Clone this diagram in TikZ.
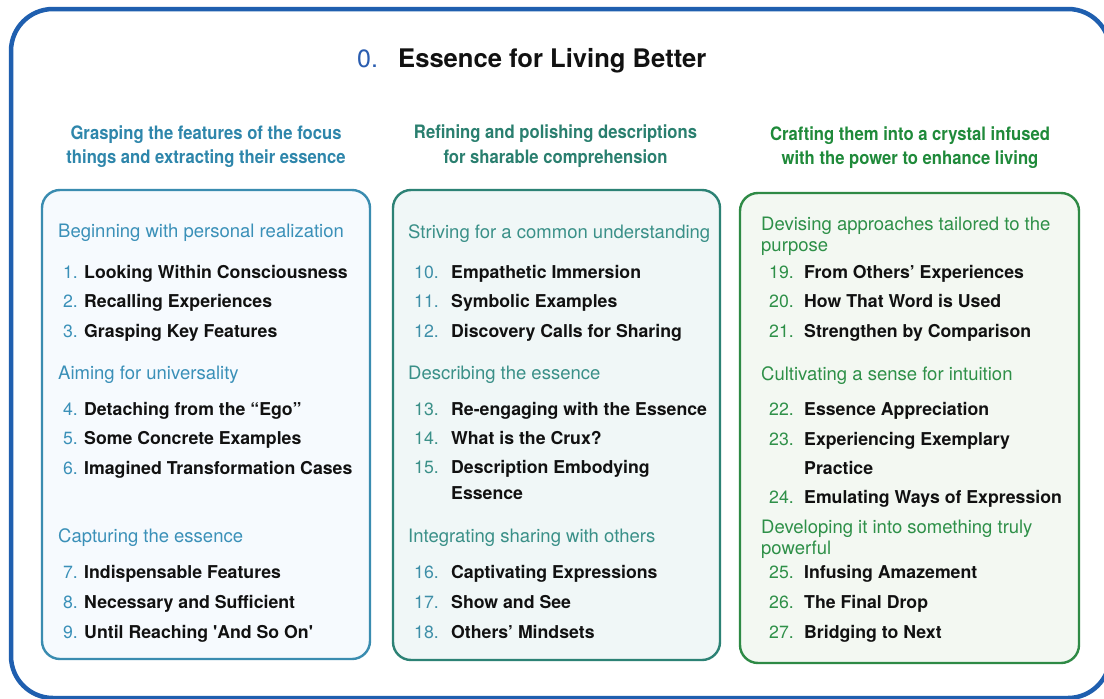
\documentclass[tikz,border=0pt]{standalone}
\usepackage{fontspec}
\setmainfont{TeX Gyre Heros}[Ligatures=TeXOff]
\newfontfamily\condfont{TeX Gyre Heros}[FakeStretch=0.9,Ligatures=TeXOff]
\definecolor{frameblue}{HTML}{1F5FAF}
\definecolor{titleblue}{HTML}{2A5DB0}
\definecolor{txt}{HTML}{111111}
\definecolor{hdA}{HTML}{2E86AB}
\definecolor{secA}{HTML}{3A90B8}
\definecolor{boxA}{HTML}{3A8CB0}
\definecolor{fillA}{HTML}{F6FAFE}
\definecolor{hdB}{HTML}{2A7F6F}
\definecolor{secB}{HTML}{3A9088}
\definecolor{numB}{HTML}{3E8FA8}
\definecolor{boxB}{HTML}{2C8275}
\definecolor{fillB}{HTML}{F0F7F7}
\definecolor{hdC}{HTML}{1F8A3A}
\definecolor{secC}{HTML}{2E9048}
\definecolor{boxC}{HTML}{2E8A45}
\definecolor{fillC}{HTML}{F3F8F2}
\tikzset{
  outerframe/.style={draw=frameblue, line width=4.5pt, rounded corners=42pt},
  panel/.style={line width=2.4pt, rounded corners=18pt},
  colhead/.style={anchor=base, inner sep=0pt, font=\condfont\bfseries\fontsize{18.5}{22}\selectfont},
  sechead/.style={anchor=base west, inner sep=0pt, font=\fontsize{18.5}{22}\selectfont},
  num/.style={anchor=base east, inner sep=0pt, font=\fontsize{17.7}{21}\selectfont},
  item/.style={anchor=base west, inner sep=0pt, text=txt, font=\fontsize{17.7}{21}\bfseries},
}
\begin{document}
\begin{tikzpicture}[x=1pt,y=-1pt]
\useasboundingbox (0,0) rectangle (1104,699);
\fill[white] (0,0) rectangle (1104,699);
\begin{scope}
  \clip (0,0) rectangle (1104,699);
  \draw[outerframe] (11,9) rectangle (1110,698);
\end{scope}

% title
\node[anchor=base west, inner sep=0pt, text=titleblue, font=\fontsize{25}{29}\selectfont] (t0) at (357,67) {0.};
\node[anchor=base west, inner sep=0pt, text=txt, font=\fontsize{25.6}{29}\bfseries] (title) at (398,67) {Essence for Living Better};

% column headers
\node[colhead, text=hdA] (hA1) at (206,139) {Grasping the features of the focus};
\node[colhead, text=hdA] (hA2) at (206,163.5) {things and extracting their essence};
\node[colhead, text=hdB] (hB1) at (555.5,138) {Refining and polishing descriptions};
\node[colhead, text=hdB] (hB2) at (555.5,163) {for sharable comprehension};
\node[colhead, text=hdC] (hC1) at (910,140) {Crafting them into a crystal infused};
\node[colhead, text=hdC] (hC2) at (910,164.5) {with the power to enhance living};

% panels
\draw[panel, draw=boxA, fill=fillA] (42,190) rectangle (370,659);
\draw[panel, draw=boxB, fill=fillB] (393,190) rectangle (720,660);
\draw[panel, draw=boxC, fill=fillC] (740,193) rectangle (1079,663);

% column A
\node[sechead, text=secA] (sA1) at (58,237.5) {Beginning with personal realization};
\node[num, text=secA] (n1) at (78,278) {1.};   \node[item] (i1) at (84,278) {Looking Within Consciousness};
\node[num, text=secA] (n2) at (78,307.5) {2.}; \node[item] (i2) at (84,307.5) {Recalling Experiences};
\node[num, text=secA] (n3) at (78,337) {3.};   \node[item] (i3) at (84,337) {Grasping Key Features};
\node[sechead, text=secA] (sA2) at (58,379.5) {Aiming for universality};
\node[num, text=secA] (n4) at (78,415) {4.};   \node[item] (i4) at (84,415) {Detaching from the “Ego”};
\node[num, text=secA] (n5) at (78,444) {5.};   \node[item] (i5) at (84,444) {Some Concrete Examples};
\node[num, text=secA] (n6) at (78,474) {6.};   \node[item] (i6) at (84,474) {Imagined Transformation Cases};
\node[sechead, text=secA] (sA3) at (58,542.5) {Capturing the essence};
\node[num, text=secA] (n7) at (78,578.5) {7.}; \node[item] (i7) at (84,578.5) {Indispensable Features};
\node[num, text=secA] (n8) at (78,608.5) {8.}; \node[item] (i8) at (84,608.5) {Necessary and Sufficient};
\node[num, text=secA] (n9) at (78,638) {9.};   \node[item] (i9) at (84,638) {Until Reaching 'And So On'};

% column B
\node[sechead, text=secB] (sB1) at (408,238) {Striving for a common understanding};
\node[num, text=numB] (n10) at (439,278) {10.};   \node[item] (i10) at (451,278) {Empathetic Immersion};
\node[num, text=numB] (n11) at (439,307.5) {11.}; \node[item] (i11) at (451,307.5) {Symbolic Examples};
\node[num, text=numB] (n12) at (439,337) {12.};   \node[item] (i12) at (451,337) {Discovery Calls for Sharing};
\node[sechead, text=secB] (sB2) at (408,379.5) {Describing the essence};
\node[num, text=secB] (n13) at (439,415) {13.};   \node[item] (i13) at (451,415) {Re-engaging with the Essence};
\node[num, text=secB] (n14) at (439,444) {14.};   \node[item] (i14) at (451,444) {What is the Crux?};
\node[num, text=secB] (n15) at (439,473) {15.};   \node[item] (i15) at (451,473) {Description Embodying};
\node[item] (i15b) at (451,499) {Essence};
\node[sechead, text=secB] (sB3) at (408,542.5) {Integrating sharing with others};
\node[num, text=numB] (n16) at (439,578.5) {16.}; \node[item] (i16) at (451,578.5) {Captivating Expressions};
\node[num, text=numB] (n17) at (439,608.5) {17.}; \node[item] (i17) at (451,608.5) {Show and See};
\node[num, text=numB] (n18) at (439,638) {18.};   \node[item] (i18) at (451,638) {Others’ Mindsets};

% column C
\node[sechead, text=secC] (sC1) at (761,230.5) {Devising approaches tailored to the};
\node[sechead, text=secC] (sC1b) at (761,251.5) {purpose};
\node[num, text=secC] (n19) at (794,278) {19.};   \node[item] (i19) at (804,278) {From Others’ Experiences};
\node[num, text=secC] (n20) at (794,307.5) {20.}; \node[item] (i20) at (804,307.5) {How That Word is Used};
\node[num, text=secC] (n21) at (794,337) {21.};   \node[item] (i21) at (804,337) {Strengthen by Comparison};
\node[sechead, text=secC] (sC2) at (761,380.5) {Cultivating a sense for intuition};
\node[num, text=secC] (n22) at (794,415) {22.};   \node[item] (i22) at (804,415) {Essence Appreciation};
\node[num, text=secC] (n23) at (794,445) {23.};   \node[item] (i23) at (804,445) {Experiencing Exemplary};
\node[item] (i23b) at (804,474) {Practice};
\node[num, text=secC] (n24) at (794,503) {24.};   \node[item] (i24) at (804,503) {Emulating Ways of Expression};
\node[sechead, text=secC] (sC3) at (761,533) {Developing it into something truly};
\node[sechead, text=secC] (sC3b) at (761,554) {powerful};
\node[num, text=secC] (n25) at (794,578.5) {25.}; \node[item] (i25) at (804,578.5) {Infusing Amazement};
\node[num, text=secC] (n26) at (794,608.5) {26.}; \node[item] (i26) at (804,608.5) {The Final Drop};
\node[num, text=secC] (n27) at (794,638) {27.};   \node[item] (i27) at (804,638) {Bridging to Next};
\end{tikzpicture}
\end{document}
